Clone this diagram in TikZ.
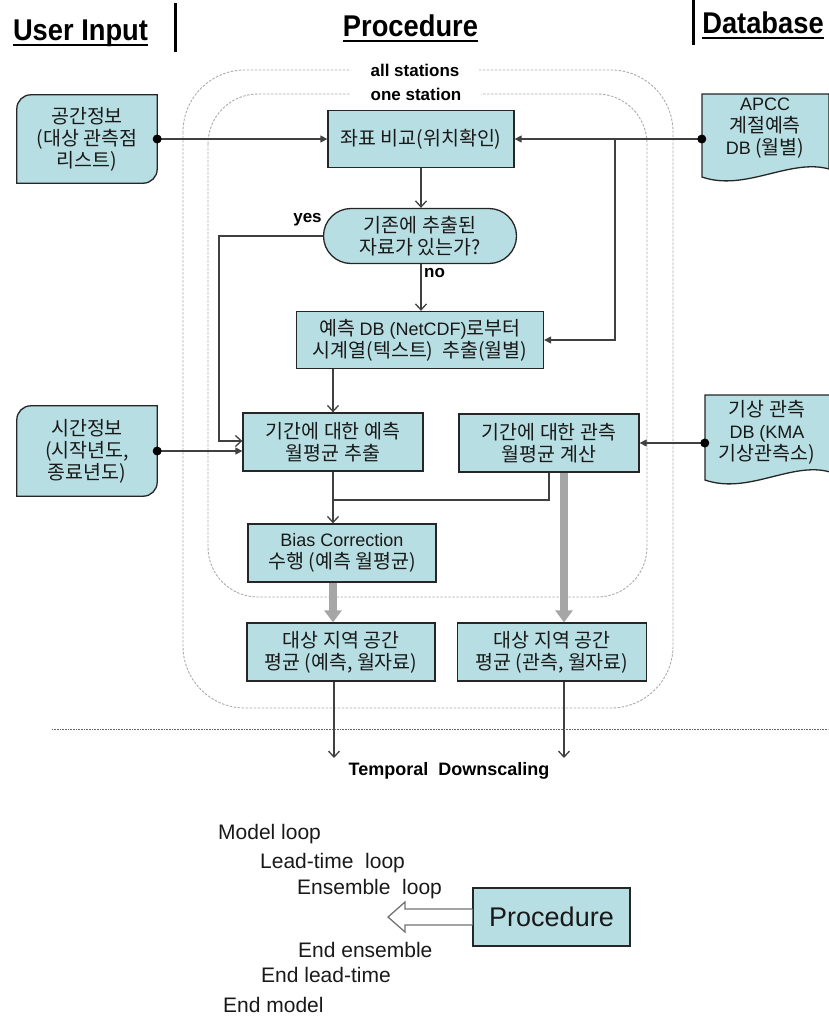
\documentclass[tikz,border=0pt]{standalone}
\usepackage{fontspec}
\setmainfont{Liberation Sans}
\newfontfamily\kr{Noto Sans CJK KR}
\newfontfamily\lat{Liberation Sans}
\newfontfamily\headfnt[FakeStretch=0.91]{Liberation Sans}
\newcommand\la[1]{{\lat\fontsize{18}{22}\selectfont #1}}
\usetikzlibrary{arrows.meta,shapes.misc,backgrounds,calc}
\definecolor{boxfill}{HTML}{B7DEE2}
\definecolor{lnk}{HTML}{404040}
\definecolor{dashg}{HTML}{ABABAB}
\definecolor{thickg}{HTML}{A6A6A6}
\begin{document}
\begin{tikzpicture}[x=1pt,y=-1pt,
  box/.style={draw=black!85, line width=1.3, fill=boxfill, align=center, inner sep=0,
    font=\kr\fontsize{19.5}{22}\selectfont, text=black!90},
  ubox/.style={align=center, inner sep=0, minimum width=140, minimum height=88,
    font=\kr\fontsize{19.5}{22}\selectfont, text=black!90},
  dbox/.style={align=center, inner sep=0, font=\kr\fontsize{19.5}{22}\selectfont, text=black!90},
  uline/.style={draw=black!85, line width=1.3, fill=boxfill},
  conn/.style={draw=lnk, line width=1.3},
  oarr/.style={conn, -{Straight Barb[length=6pt,width=11pt]}},
  farr/.style={conn, -{Triangle[length=7pt,width=7pt]}},
  thk/.style={draw=thickg, line width=7.5, -{Triangle[length=12pt,width=17pt]}},
  cont/.style={draw=dashg, line width=0.9, dash pattern=on 2.5pt off 1.5pt},
  contlabel/.style={fill=white, inner xsep=20, inner ysep=2, font=\bfseries\fontsize{17}{20}\selectfont},
  lbl/.style={font=\bfseries\fontsize{17}{20}\selectfont, inner sep=0},
  loopt/.style={anchor=base west, font=\fontsize{21}{24}\selectfont, inner sep=0, text=black!90},
  head/.style={font=\headfnt\bfseries\fontsize{30}{32}\selectfont, inner sep=0, anchor=base},
  dotline/.style={draw=black!60, line width=0.8, dash pattern=on 0.8pt off 0.8pt},
  blk/.style={draw=black!55, line width=1.3, fill=white},
]
\useasboundingbox (0,0) rectangle (828,1018);

% containers
\draw[cont, rounded corners=62] (183,70) rectangle (673,708);
\draw[cont, rounded corners=50] (208,94) rectangle (647,597);
\node[contlabel] (allst) at (415,70) {all stations};
\node[contlabel] (onest) at (416,94) {one station};

% headers
\node[head] (hU) at (80.5,40) {User Input};
\draw[line width=2.5] ([yshift=-5pt]hU.base west) -- ([yshift=-5pt]hU.base east);
\node[head] (hP) at (410.5,36) {Procedure};
\draw[line width=2.5] ([yshift=-5pt]hP.base west) -- ([yshift=-5pt]hP.base east);
\node[head] (hD) at (763,33) {Database};
\draw[line width=2.5] ([yshift=-5pt]hD.base west) -- ([yshift=-5pt]hD.base east);
\draw[line width=3] (175,3) -- (175,52);
\draw[line width=3] (693,0) -- (693,45);

% procedure boxes
\node[box, minimum width=186, minimum height=57] (c1) at (421,139) {좌표 비교(위치확인)};
\node[box, rounded rectangle, minimum width=193, minimum height=55] (dec) at (420,236) {기존에 추출된\\자료가 있는가?};
\node[box, minimum width=247, minimum height=57] (ext) at (420,340) {예측 \la{DB (NetCDF)}로부터\\시계열(텍스트)\ \ 추출(월별)};
\node[box, minimum width=180, minimum height=58] (pm) at (333,442) {기간에 대한 예측\\월평균 추출};
\node[box, minimum width=180, minimum height=58] (om) at (549,443) {기간에 대한 관측\\월평균 계산};
\node[box, minimum width=188, minimum height=58] (bc) at (342,553) {\la{Bias Correction}\\수행 (예측 월평균)};
\node[box, minimum width=188, minimum height=58] (ap) at (341,652) {대상 지역 공간\\평균 (예측, 월자료)};
\node[box, minimum width=189, minimum height=58] (ao) at (552,652) {대상 지역 공간\\평균 (관측, 월자료)};

% user inputs
\node[ubox] (sp) at (87,139) {공간정보\\(대상 관측점\\리스트)};
\node[ubox, minimum height=90] (tp) at (87,451) {시간정보\\(시작년도,\\종료년도)};
% databases
\node[dbox, minimum width=126] (dbA) at (765,128) {\la{APCC}\\계절예측\\\la{DB} (월별)};
\node[dbox, minimum width=124] (dbK) at (767,432) {기상 관측\\\la{DB (KMA}\\기상관측소)};
\begin{scope}[on background layer]
\foreach \n in {sp,tp}
  \draw[uline] ([xshift=14pt]\n.north west) -- (\n.north east) -- ([yshift=14pt]\n.south east)
    arc[start angle=0,end angle=-90,radius=14pt] -- (\n.south west) -- ([yshift=-14pt]\n.north west)
    arc[start angle=180,end angle=90,radius=14pt] -- cycle;
\draw[uline] (702,94) -- (829,94) -- (829,169) .. controls (790,158) and (745,192) .. (702,177) -- cycle;
\draw[uline] (705,395) -- (830,395) -- (830,472) .. controls (792,461) and (748,495) .. (705,480) -- cycle;
\end{scope}

% connectors
\draw[farr] (sp.east) -- (c1.west);
\fill[black] (sp.east) circle[radius=4.5pt];
\draw[farr] (dbA.west |- c1.east) -- (c1.east);
\fill[black] (dbA.west |- c1.east) circle[radius=4.5pt];
\coordinate (br) at (615,139);
\draw[farr] (br) |- (ext.east);
\draw[oarr] (c1.south) -- (c1.south |- dec.north);
\draw[oarr] (dec.south -| c1.south) -- (ext.north -| c1.south);
\node[lbl, anchor=west] (no) at (424,273) {no};
\node[lbl] (yes) at (307.5,220) {yes};
\coordinate (yc) at (219,236);
\draw[oarr] (dec.west) -- (yc) |- ([yshift=1pt]pm.west);
\draw[oarr] (ext.south -| pm.south) -- (pm.north);
\draw[farr] (tp.east) -- (tp.east -| pm.west);
\fill[black] (tp.east) circle[radius=4.5pt];
\draw[farr] (dbK.west |- om.east) -- (om.east);
\fill[black] (dbK.west |- om.east) circle[radius=4.5pt];
\coordinate (mg) at (333,500);
\draw[conn] (om.south) |- (mg);
\draw[oarr] (pm.south) -- (pm.south |- bc.north);
\draw[thk] (bc.south -| pm.south) -- (ap.north -| pm.south);
\coordinate (tk) at (564,472);
\draw[thk] (om.south -| tk) -- (ao.north -| tk);
\coordinate (tdL) at (334,758);
\coordinate (tdR) at (564,758);
\draw[oarr] (ap.south -| tdL) -- (tdL);
\draw[oarr] (ao.south -| tdR) -- (tdR);
\draw[dotline] (52,729) -- (828,729);
\node[lbl, font=\bfseries\fontsize{18}{20}\selectfont] (td) at (449,771) {Temporal\ \ Downscaling};

% loops
\node[loopt] (ml) at (218,839) {Model loop};
\node[loopt] (ll) at (260,868) {Lead-time\ \ loop};
\node[loopt] (el) at (297,894) {Ensemble\ \ loop};
\node[loopt] (ee) at (298,957) {End ensemble};
\node[loopt] (elt) at (261,982) {End lead-time};
\node[loopt] (em) at (223,1012) {End model};
\node[box, font=\lat\fontsize{27}{30}\selectfont, minimum width=157, minimum height=58] (pb) at (551.5,917) {Procedure};
\coordinate (tip) at (388,917);
\draw[blk] ($(pb.west)+(0,-8)$) -- (405,909) -- (405,902) -- (tip) -- (405,932) -- (405,925) -- ($(pb.west)+(0,8)$);
\end{tikzpicture}
\end{document}
